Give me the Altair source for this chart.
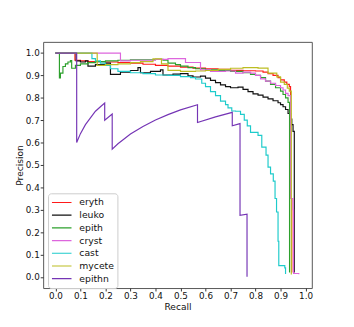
import altair as alt
import pandas as pd

series_names = ["eryth", "leuko", "epith", "cryst", "cast", "mycete", "epithn"]
series_colors = ["#ff1a1a", "#111111", "#2ca02c", "#dd66dd", "#1ecbcb", "#bcbd22", "#7535b5"]

eryth_r = [0, 0.078, 0.10, 0.13, 0.20, 0.25, 0.30, 0.35, 0.40, 0.45, 0.50, 0.55, 0.60, 0.65, 0.70, 0.75, 0.80,
           0.83, 0.85, 0.87, 0.89, 0.90, 0.915, 0.925, 0.935, 0.94, 0.94, 0.945]
eryth_p = [1.0, 0.968, 0.965, 0.962, 0.96, 0.958, 0.955, 0.95, 0.945, 0.942, 0.937, 0.933, 0.93, 0.927, 0.923, 0.921, 0.92,
           0.915, 0.908, 0.9, 0.89, 0.88, 0.87, 0.86, 0.85, 0.84, 0.35, 0.02]

leuko_r = [0, 0.083, 0.10, 0.12, 0.13, 0.16, 0.20, 0.22, 0.26, 0.30, 0.33, 0.34, 0.38, 0.42, 0.43, 0.47, 0.50, 0.53, 0.55,
           0.58, 0.60, 0.62, 0.64, 0.66, 0.68, 0.70, 0.73, 0.75, 0.77, 0.79, 0.81, 0.83, 0.85, 0.87, 0.89, 0.90, 0.91,
           0.92, 0.93, 0.94, 0.945, 0.95, 0.955, 0.955]
leuko_p = [1.0, 0.965, 0.96, 0.965, 0.942, 0.948, 0.955, 0.905, 0.915, 0.922, 0.935, 0.912, 0.918, 0.925, 0.902, 0.906,
           0.908, 0.898, 0.893, 0.897, 0.888, 0.878, 0.868, 0.858, 0.85, 0.845, 0.848, 0.838, 0.828, 0.818, 0.812, 0.803,
           0.795, 0.787, 0.778, 0.77, 0.76, 0.748, 0.73, 0.705, 0.68, 0.65, 0.37, 0.02]

epith_r = [0, 0.016, 0.02, 0.03, 0.04, 0.05, 0.06, 0.065, 0.08, 0.10, 0.13, 0.16, 0.20, 0.25, 0.30, 0.35, 0.40, 0.43,
           0.45, 0.48, 0.50, 0.53, 0.56, 0.60, 0.65, 0.70, 0.75, 0.78, 0.80, 0.82, 0.84, 0.86, 0.88, 0.90, 0.91, 0.92,
           0.93, 0.936]
epith_p = [1.0, 0.889, 0.91, 0.94, 0.952, 0.96, 0.966, 0.932, 0.945, 0.952, 0.957, 0.962, 0.965, 0.968, 0.97, 0.97,
           0.972, 0.968, 0.955, 0.948, 0.942, 0.935, 0.93, 0.925, 0.922, 0.918, 0.912, 0.905, 0.9, 0.89, 0.875, 0.86,
           0.845, 0.83, 0.815, 0.8, 0.78, 0.02]

cryst_r = [0, 0.26, 0.30, 0.40, 0.45, 0.52, 0.58, 0.62, 0.68, 0.72, 0.75, 0.78, 0.80, 0.82, 0.84, 0.86, 0.88, 0.90,
           0.91, 0.92, 0.93, 0.94, 0.95, 0.952, 0.973]
cryst_p = [1.0, 0.965, 0.968, 0.972, 0.975, 0.958, 0.925, 0.918, 0.92, 0.91, 0.915, 0.91, 0.90, 0.885, 0.875, 0.865,
           0.855, 0.845, 0.835, 0.82, 0.81, 0.35, 0.30, 0.015, 0.012]

cast_r = [0, 0.146, 0.16, 0.18, 0.20, 0.22, 0.25, 0.30, 0.35, 0.40, 0.45, 0.50, 0.54, 0.56, 0.585, 0.60, 0.62, 0.64,
          0.66, 0.68, 0.69, 0.705, 0.72, 0.74, 0.755, 0.767, 0.78, 0.81, 0.825, 0.842, 0.85, 0.86, 0.871, 0.878,
          0.884, 0.89, 0.893, 0.917, 0.92]
cast_p = [1.0, 0.975, 0.965, 0.955, 0.945, 0.93, 0.918, 0.912, 0.908, 0.902, 0.90, 0.895, 0.89, 0.884, 0.865, 0.85,
          0.828, 0.81, 0.785, 0.77, 0.755, 0.741, 0.74, 0.726, 0.70, 0.675, 0.646, 0.632, 0.58, 0.544, 0.49, 0.46,
          0.428, 0.35, 0.29, 0.159, 0.05, 0.04, 0.013]

mycete_r = [0, 0.167, 0.20, 0.25, 0.30, 0.34, 0.39, 0.424, 0.45, 0.50, 0.56, 0.60, 0.65, 0.70, 0.75, 0.81, 0.85,
            0.885, 0.90, 0.915, 0.927, 0.935, 0.943]
mycete_p = [1.0, 0.945, 0.948, 0.952, 0.957, 0.962, 0.974, 0.952, 0.923, 0.918, 0.92, 0.922, 0.927, 0.932, 0.935,
            0.933, 0.91, 0.894, 0.87, 0.86, 0.843, 0.83, 0.01]

epithn_r = [0, 0.085, 0.085, 0.10, 0.12, 0.14, 0.16, 0.18, 0.197, 0.197, 0.227, 0.227, 0.25, 0.30, 0.35, 0.40, 0.45,
            0.50, 0.568, 0.568, 0.64, 0.707, 0.707, 0.738, 0.738, 0.766, 0.766]
epithn_p = [1.0, 1.0, 0.60, 0.64, 0.68, 0.71, 0.74, 0.76, 0.777, 0.70, 0.728, 0.571, 0.595, 0.638, 0.672, 0.701,
            0.725, 0.746, 0.769, 0.69, 0.715, 0.735, 0.675, 0.685, 0.275, 0.28, 0.0]

all_r = [eryth_r, leuko_r, epith_r, cryst_r, cast_r, mycete_r, epithn_r]
all_p = [eryth_p, leuko_p, epith_p, cryst_p, cast_p, mycete_p, epithn_p]

rows = []
for k, (name, rs, ps) in enumerate(zip(series_names, all_r, all_p)):
    for i, (r, p) in enumerate(zip(rs, ps)):
        rows.append({"series": name, "recall": r, "precision": p, "idx": i, "k": k})
df = pd.DataFrame(rows)

ticks = [round(i * 0.1, 1) for i in range(11)]

x_enc = alt.X("recall:Q", scale=alt.Scale(domain=[-0.049, 1.025], nice=False, zero=False),
              axis=alt.Axis(title="Recall", values=ticks, format=".1f", grid=False))
y_enc = alt.Y("precision:Q", scale=alt.Scale(domain=[-0.05, 1.05], nice=False, zero=False),
              axis=alt.Axis(title="Precision", values=ticks, format=".1f", grid=False))
color_enc = alt.Color("series:N", sort=series_names,
                      scale=alt.Scale(domain=series_names, range=series_colors),
                      legend=alt.Legend(orient="none", legendX=5, legendY=155, title=None,
                                        symbolType="stroke", symbolSize=400, symbolStrokeWidth=1.2,
                                        clipHeight=12.8, rowPadding=0, padding=3, labelOffset=7,
                                        labelFontSize=9.5, labelFont="DejaVu Sans", labelColor="#111",
                                        strokeColor="#cccccc", fillColor="white", cornerRadius=3))

base = alt.Chart(df)
steps = base.transform_filter(alt.datum.series != "epithn").mark_line(
    interpolate="step-after", strokeWidth=1.2, clip=True
).encode(x=x_enc, y=y_enc, color=color_enc, order="idx:Q")
lin = base.transform_filter(alt.datum.series == "epithn").mark_line(
    strokeWidth=1.2, clip=True
).encode(x=x_enc, y=y_enc, color=color_enc, order="idx:Q")

chart = alt.layer(steps, lin).properties(
    width=275, height=252,
    autosize=alt.AutoSizeParams(type="none"),
    padding={"left": 36, "top": 31, "right": 35, "bottom": 28},
).configure_view(stroke="#555555", strokeWidth=1).configure_axis(
    domain=False, tickColor="#333", tickSize=3, labelPadding=1, labelFontSize=9,
    labelFont="DejaVu Sans", labelColor="#111", titleFont="DejaVu Sans", titleFontSize=9.3,
    titleFontWeight="normal", titleColor="#111", titlePadding=2
).configure_axisY(labelPadding=1, titlePadding=1)

chart.save("out.html", embed_options={"renderer": "svg", "actions": False})
